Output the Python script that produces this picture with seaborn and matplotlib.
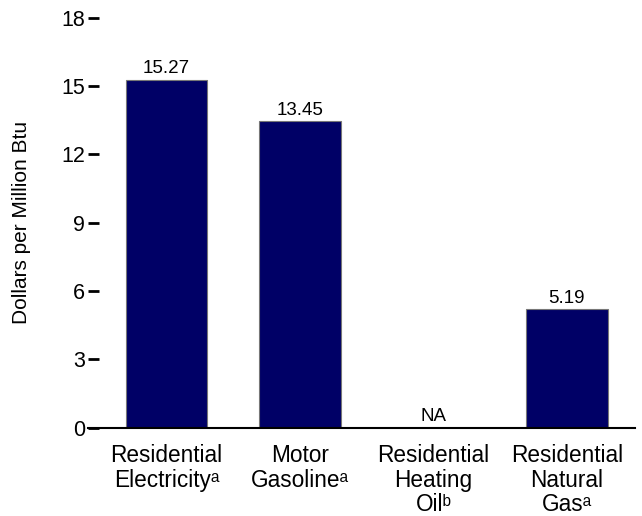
import numpy as np
import pandas as pd
import matplotlib
matplotlib.use("Agg")
import matplotlib.pyplot as plt
import seaborn as sns

categories = [
    "Residential\nElectricity\u1d43",
    "Motor\nGasoline\u1d43",
    "Residential\nHeating\nOil\u1d47",
    "Residential\nNatural\nGas\u1d43",
]
prices = [15.27, 13.45, np.nan, 5.19]
price_labels = ["15.27", "13.45", "NA", "5.19"]
yticks = [0, 3, 6, 9, 12, 15, 18]

sns.set_style("white")
plt.rcParams["font.family"] = ["Liberation Sans", "DejaVu Sans"]
plt.rcParams["text.color"] = "black"
plt.rcParams["xtick.color"] = "black"
plt.rcParams["ytick.color"] = "black"
plt.rcParams["axes.labelcolor"] = "black"

df = pd.DataFrame({"fuel": categories, "price": prices})

fig = plt.figure(figsize=(6.42, 5.16), dpi=100)
ax = fig.add_axes([0.137, 0.171, 0.852, 0.795])

sns.barplot(data=df, x="fuel", y="price", order=categories, color="#000066",
            saturation=1, width=0.61, edgecolor="#777777", linewidth=0.8, ax=ax)

# value labels above the bars, "NA" sits on the axis
for i, (v, lab) in enumerate(zip(prices, price_labels)):
    y = 0 if np.isnan(v) else v
    ax.text(i, y + 0.12, lab, ha="center", va="bottom", fontsize=13.5, color="black")

ax.set_xlim(-0.59, 3.51)
ax.set_ylim(0, 18)
ax.set_yticks(yticks)
ax.tick_params(axis="y", left=True, direction="in", length=8, width=2,
               labelsize=15.5, pad=2, colors="black")
ax.tick_params(axis="x", bottom=False, length=0, labelsize=16.3, pad=12, colors="black")
for lab in ax.get_xticklabels():
    lab.set_verticalalignment("top")
    lab.set_linespacing(1.08)
ax.set_xlabel("")
ax.set_ylabel("Dollars per Million Btu", fontsize=15, labelpad=22)

for s in ["left", "right", "top"]:
    ax.spines[s].set_visible(False)
ax.spines["bottom"].set_color("black")
ax.spines["bottom"].set_linewidth(1.5)

fig.savefig("out.png", dpi=100)
